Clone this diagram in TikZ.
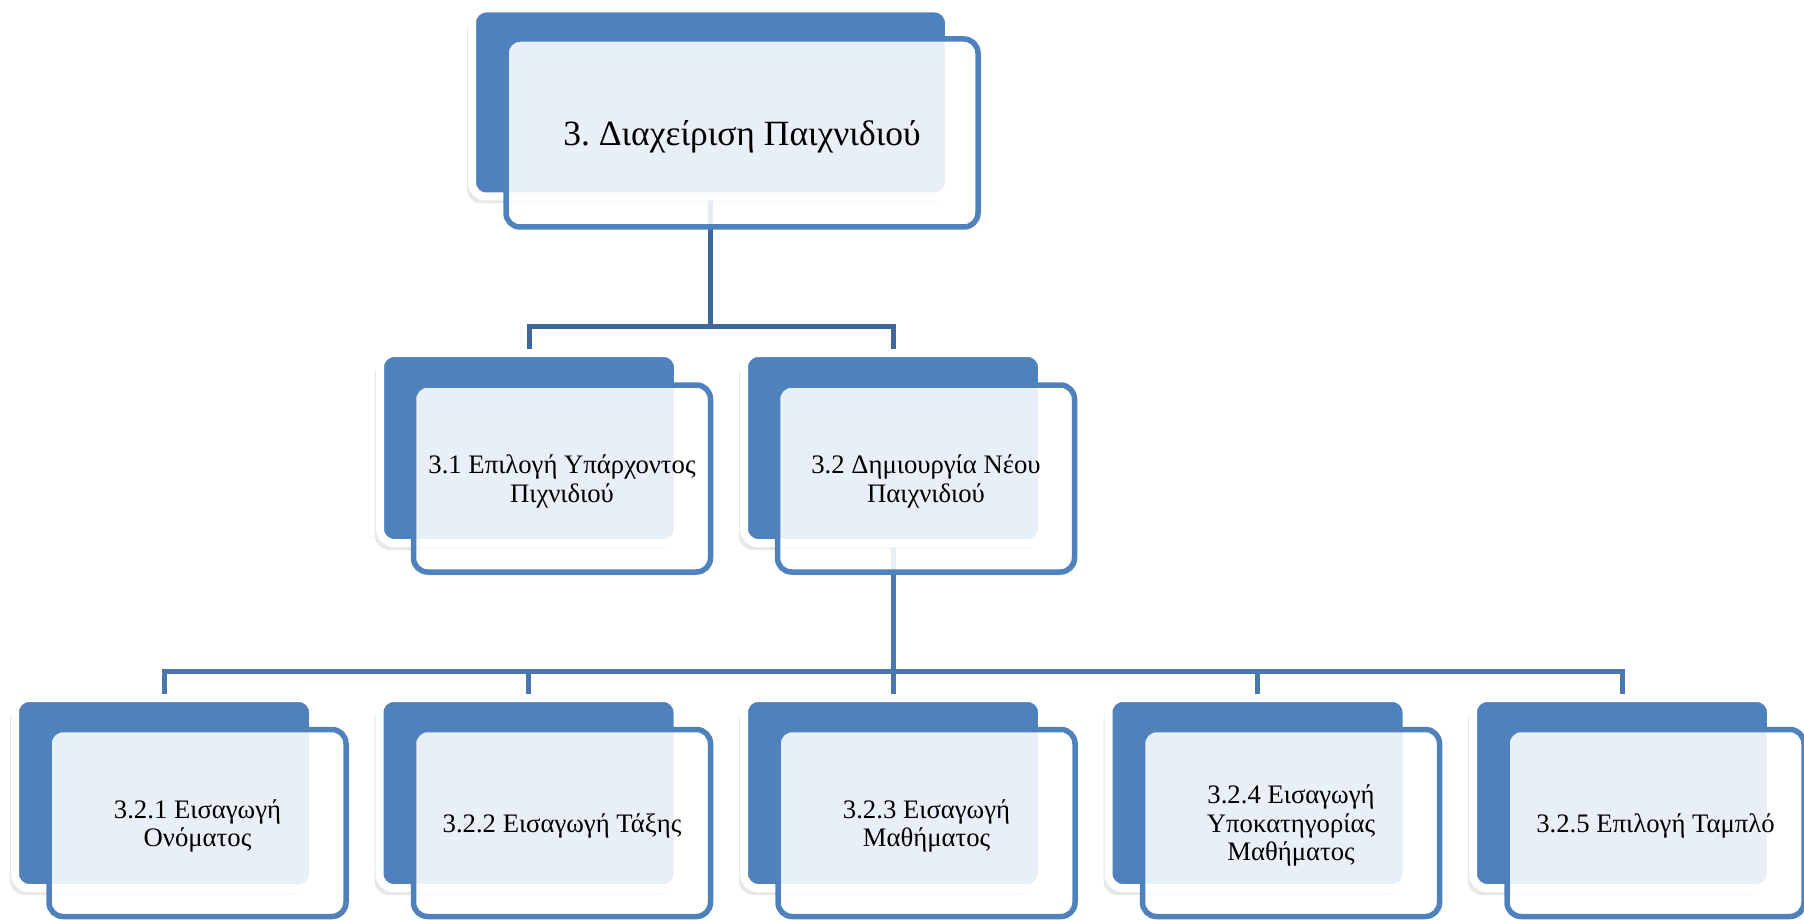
\documentclass[tikz,border=0pt]{standalone}
\usepackage{fontspec}
\setmainfont{Liberation Serif}
\frenchspacing
\usetikzlibrary{shadows, backgrounds}
\definecolor{boxblue}{RGB}{79,129,189}
\definecolor{linkdark}{RGB}{64,104,154}
\definecolor{linkblue}{RGB}{72,118,175}

\tikzset{
	backbox/.style={draw=white, line width=8pt, fill=boxblue, rounded corners=14pt,
		inner sep=0pt, minimum width=298pt, minimum height=190pt,
		drop shadow={shadow xshift=-5pt, shadow yshift=-7pt, opacity=0.18}},
	frontbox/.style={draw=boxblue, line width=5.5pt, fill=white, fill opacity=0.88,
		text opacity=1, rounded corners=14pt, inner sep=0pt, align=center,
		minimum width=297pt, minimum height=187pt, text depth=0pt,
		font=\fontsize{26.7}{28.5}\selectfont},
	link/.style={line width=5pt, draw=linkblue}
}

\begin{document}
\begin{tikzpicture}[x=1pt, y=-1pt]
				\useasboundingbox (0,0) rectangle (1804,920);

				\node[backbox, minimum width=477pt, minimum height=188pt] (B0) at (710.5,102.5) {};
				\node[frontbox, minimum width=472pt, minimum height=188pt,
					font=\fontsize{35.5}{36}\selectfont] (F0) at ([shift={(31.5,30.5)}]B0.center) {3. Διαχείριση Παιχνιδιού};

				\node[backbox] (B1) at (529,448) {};
				\node[frontbox] (F1) at ([shift={(33,30.5)}]B1.center) {3.1 Επιλογή Υπάρχοντος\\Πιχνιδιού};
				\node[backbox] (B2) at (893,448) {};
				\node[frontbox] (F2) at ([shift={(33,30.5)}]B2.center) {3.2 Δημιουργία Νέου\\Παιχνιδιού};

				\node[backbox] (C1) at (164,793) {};
				\node[frontbox] (D1) at ([shift={(33.5,30)}]C1.center) {3.2.1 Εισαγωγή\\Ονόματος};
				\node[backbox] (C2) at (528.5,793) {};
				\node[frontbox] (D2) at ([shift={(33.5,30)}]C2.center) {3.2.2 Εισαγωγή Τάξης};
				\node[backbox] (C3) at (893,793) {};
				\node[frontbox] (D3) at ([shift={(33.5,30)}]C3.center) {3.2.3 Εισαγωγή\\Μαθήματος};
				\node[backbox] (C4) at (1257.5,793) {};
				\node[frontbox] (D4) at ([shift={(33.5,30)}]C4.center) {3.2.4 Εισαγωγή\\Υποκατηγορίας\\Μαθήματος};
				\node[backbox] (C5) at (1622,793) {};
				\node[frontbox] (D5) at ([shift={(33.5,30)}]C5.center) {3.2.5 Επιλογή Ταμπλό};

				\coordinate (J0) at (710.5,326);
				\coordinate (J1) at (893,671);

				\begin{scope}[on background layer]
				\path[link, draw=linkdark]
				(B0.south) -- (J0) -| (B1.north)
				(J0) -| (B2.north);

				\path[link]
				(B2.south) -- (J1)
				(J1) -| (C1.north) (J1) -| (C2.north) (J1) -- (C3.north)
				(J1) -| (C4.north) (J1) -| (C5.north);
				\end{scope}
			\end{tikzpicture}
\end{document}
